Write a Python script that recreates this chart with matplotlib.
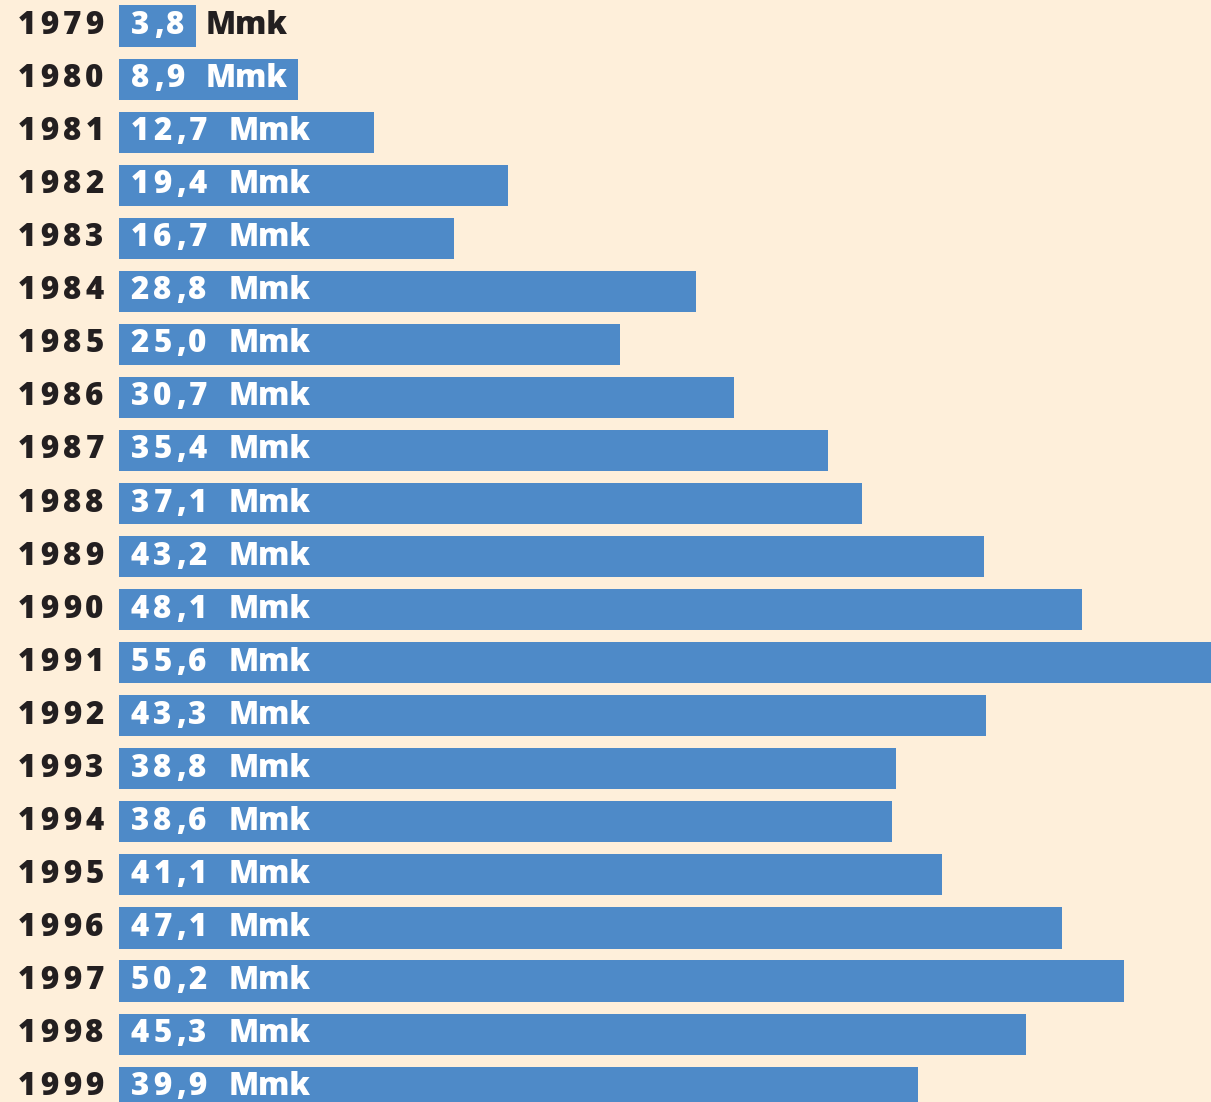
import matplotlib
matplotlib.use("Agg")
import matplotlib.pyplot as plt

years = [str(y) for y in range(1979, 2000)]
values = [3.8, 8.9, 12.7, 19.4, 16.7, 28.8, 25.0, 30.7, 35.4, 37.1, 43.2,
          48.1, 55.6, 43.3, 38.8, 38.6, 41.1, 47.1, 50.2, 45.3, 39.9]
unit = "Mmk"

bg = "#FEEFDA"
blue = "#4E8AC8"
dark = "#231F20"
font = "Open Sans"
fs = 22.5
weight = 800

fig = plt.figure(figsize=(12.11, 11.02), dpi=100, facecolor=bg)
ax = fig.add_axes([0, 0, 1, 1])
ax.set_facecolor(bg)
ax.axis("off")

rows = list(range(len(years)))
ax.barh(rows, values, height=0.774, left=0, color=blue, edgecolor="none")
ax.set_xlim(-5.975, 54.575)
ax.set_ylim(20.28, -0.49)

base_dy = -8.0  # baseline offset from row centre, pixels


def put(ch, i, dx, color, ha="center"):
    ax.annotate(ch, xy=(0, i), xycoords="data", xytext=(dx, base_dy),
                textcoords="offset pixels", ha=ha, va="baseline",
                fontsize=fs, fontweight=weight, family=font, color=color,
                annotation_clip=False)


to_px = lambda v: ax.transData.transform((v, 0))[0] - ax.transData.transform((0, 0))[0]

for i, (yr, v) in enumerate(zip(years, values)):
    # year label, spaced digits, right aligned against the bar
    for k, ch in enumerate(yr):
        put(ch, i, -25.0 - 22.5 * (len(yr) - 1 - k), dark)

    # value label, spaced digits
    s = f"{v:.1f}".replace(".", ",")
    x = 20.5
    prev = None
    for ch in s:
        if prev is not None:
            if ch == ",":
                x += 18.5
            elif prev == ",":
                x += 16.5
            else:
                x += 22.5
        put(ch, i, x, "white")
        prev = ch

    mx = x + 31
    bar_px = to_px(v)
    put(unit, i, mx, "white" if bar_px > mx + 60 else dark, ha="left")

fig.savefig("out.png", dpi=100, facecolor=bg)
